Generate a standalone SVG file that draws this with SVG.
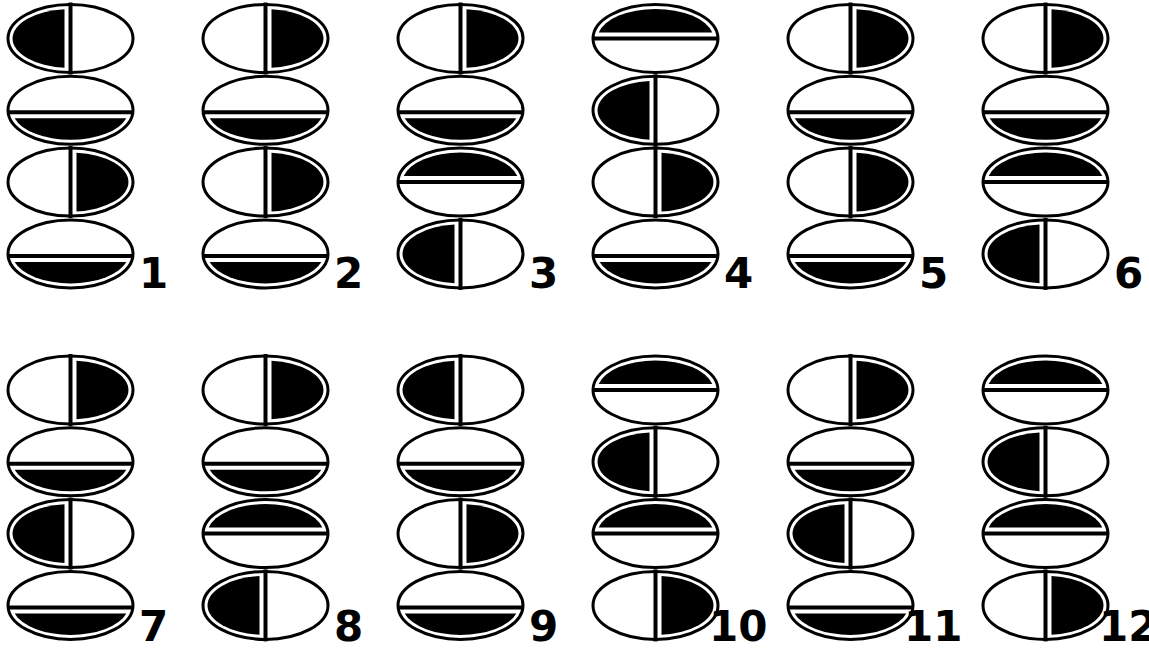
<svg xmlns="http://www.w3.org/2000/svg" xmlns:xlink="http://www.w3.org/1999/xlink" width="1149" height="649" viewBox="0 0 1149 649">
<style>
.o{fill:#fff;stroke:#000;stroke-width:3}
.d{stroke:#000;stroke-width:4;fill:none}
.f{fill:#000}
.lbl{font-family:"DejaVu Sans",sans-serif;font-weight:bold;font-size:42px;fill:#000}
</style>
<defs>
<g id="L"><ellipse class="o" cx="0" cy="0" rx="62.5" ry="34"/><path class="f" d="M-6,-29.34 A58,29.5 0 0 0 -6,29.34 Z"/><line class="d" x1="0" y1="-36" x2="0" y2="36"/></g>
<g id="R"><ellipse class="o" cx="0" cy="0" rx="62.5" ry="34"/><path class="f" d="M6,-29.34 A58,29.5 0 0 1 6,29.34 Z"/><line class="d" x1="0" y1="-36" x2="0" y2="36"/></g>
<g id="B"><ellipse class="o" cx="0" cy="0" rx="62.5" ry="34"/><path class="f" d="M-55.83,8 A58,29.5 0 0 0 55.83,8 Z"/><line class="d" x1="-62.3" y1="2" x2="62.3" y2="2"/></g>
<g id="T"><ellipse class="o" cx="0" cy="0" rx="62.5" ry="34"/><path class="f" d="M-56.79,-6 A58,29.5 0 0 1 56.79,-6 Z"/><line class="d" x1="-62.5" y1="0" x2="62.5" y2="0"/></g>
</defs>
<rect width="1149" height="649" fill="#fff"/>
<g id="fig-1"><use xlink:href="#L" x="70.5" y="38.5"/><use xlink:href="#B" x="70.5" y="110.3"/><use xlink:href="#R" x="70.5" y="182.1"/><use xlink:href="#B" x="70.5" y="253.9"/><text class="lbl" x="139" y="288">1</text></g>
<g id="fig-2"><use xlink:href="#R" x="265.5" y="38.5"/><use xlink:href="#B" x="265.5" y="110.3"/><use xlink:href="#R" x="265.5" y="182.1"/><use xlink:href="#B" x="265.5" y="253.9"/><text class="lbl" x="334" y="288">2</text></g>
<g id="fig-3"><use xlink:href="#R" x="460.5" y="38.5"/><use xlink:href="#B" x="460.5" y="110.3"/><use xlink:href="#T" x="460.5" y="182.1"/><use xlink:href="#L" x="460.5" y="253.9"/><text class="lbl" x="529" y="288">3</text></g>
<g id="fig-4"><use xlink:href="#T" x="655.5" y="38.5"/><use xlink:href="#L" x="655.5" y="110.3"/><use xlink:href="#R" x="655.5" y="182.1"/><use xlink:href="#B" x="655.5" y="253.9"/><text class="lbl" x="724" y="288">4</text></g>
<g id="fig-5"><use xlink:href="#R" x="850.5" y="38.5"/><use xlink:href="#B" x="850.5" y="110.3"/><use xlink:href="#R" x="850.5" y="182.1"/><use xlink:href="#B" x="850.5" y="253.9"/><text class="lbl" x="919" y="288">5</text></g>
<g id="fig-6"><use xlink:href="#R" x="1045.5" y="38.5"/><use xlink:href="#B" x="1045.5" y="110.3"/><use xlink:href="#T" x="1045.5" y="182.1"/><use xlink:href="#L" x="1045.5" y="253.9"/><text class="lbl" x="1114" y="288">6</text></g>
<g id="fig-7"><use xlink:href="#R" x="70.5" y="390"/><use xlink:href="#B" x="70.5" y="461.8"/><use xlink:href="#L" x="70.5" y="533.6"/><use xlink:href="#B" x="70.5" y="605.4"/><text class="lbl" x="139" y="641">7</text></g>
<g id="fig-8"><use xlink:href="#R" x="265.5" y="390"/><use xlink:href="#B" x="265.5" y="461.8"/><use xlink:href="#T" x="265.5" y="533.6"/><use xlink:href="#L" x="265.5" y="605.4"/><text class="lbl" x="334" y="641">8</text></g>
<g id="fig-9"><use xlink:href="#L" x="460.5" y="390"/><use xlink:href="#B" x="460.5" y="461.8"/><use xlink:href="#R" x="460.5" y="533.6"/><use xlink:href="#B" x="460.5" y="605.4"/><text class="lbl" x="529" y="641">9</text></g>
<g id="fig-10"><use xlink:href="#T" x="655.5" y="390"/><use xlink:href="#L" x="655.5" y="461.8"/><use xlink:href="#T" x="655.5" y="533.6"/><use xlink:href="#R" x="655.5" y="605.4"/><text class="lbl" x="709" y="641">10</text></g>
<g id="fig-11"><use xlink:href="#R" x="850.5" y="390"/><use xlink:href="#B" x="850.5" y="461.8"/><use xlink:href="#L" x="850.5" y="533.6"/><use xlink:href="#B" x="850.5" y="605.4"/><text class="lbl" x="904" y="641">11</text></g>
<g id="fig-12"><use xlink:href="#T" x="1045.5" y="390"/><use xlink:href="#L" x="1045.5" y="461.8"/><use xlink:href="#T" x="1045.5" y="533.6"/><use xlink:href="#R" x="1045.5" y="605.4"/><text class="lbl" x="1099" y="641">12</text></g>
<g id="connectors"/>
</svg>
